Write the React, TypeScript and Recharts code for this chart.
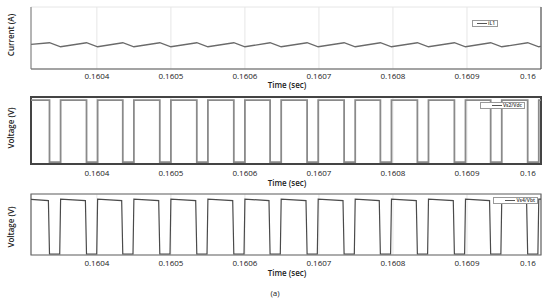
import { LineChart, Line, XAxis, YAxis, CartesianGrid, ReferenceLine, ReferenceArea, Legend } from 'recharts';

const FONT = '"Open Sans", "Noto Sans", sans-serif';

// time axis
const tStart = 0.160311;
const tEnd = 0.161;
const timeTicks = [0.1604, 0.1605, 0.1606, 0.1607, 0.1608, 0.1609, 0.161];
const timeLabels = ['0.1604', '0.1605', '0.1606', '0.1607', '0.1608', '0.1609', '0.16'];

// switching instants (s)
const fallTimes = [0.160336, 0.160386, 0.160435, 0.160485, 0.160535, 0.160585, 0.160634,
  0.160684, 0.160734, 0.160783, 0.160833, 0.160883, 0.160932, 0.160982];
const riseTimes = [0.160351, 0.160401, 0.16045, 0.1605, 0.16055, 0.1606, 0.160649,
  0.160699, 0.160749, 0.160798, 0.160848, 0.160898, 0.160947, 0.160997];

// iL1 ripple levels (arb. units)
const iL1Start = 1.35;
const iL1Peak = 1.44;
const iL1Valley = 1.22;
const iL1End = 1.24;

// Vs2/Vdc levels
const vs2High = 1;
const vs2Low = 0;

// Vs4/Vbt levels (top droops a little over each pulse)
const vs4Start = 0.998;
const vs4TopStart = 1.005;
const vs4TopEnd = 0.975;
const vs4Low = 0;
const vs4FallWidth = 0.0000015;
const vs4RiseWidth = 0.0000012;

const iL1Data = [
  { t: tStart, v: iL1Start },
  ...fallTimes.flatMap((f, i) => [{ t: f, v: iL1Peak }, { t: riseTimes[i], v: iL1Valley }]),
  { t: tEnd, v: iL1End },
];

const vs2Data = [
  { t: tStart, v: vs2High },
  ...fallTimes.flatMap((f, i) => [
    { t: f, v: vs2High }, { t: f, v: vs2Low },
    { t: riseTimes[i], v: vs2Low }, { t: riseTimes[i], v: vs2High },
  ]),
  { t: tEnd, v: vs2High },
];

const vs4Data = [
  { t: tStart, v: vs4Start },
  ...fallTimes.flatMap((f, i) => [
    { t: f - vs4FallWidth, v: vs4TopEnd }, { t: f, v: vs4Low },
    { t: riseTimes[i] - vs4RiseWidth, v: vs4Low }, { t: riseTimes[i], v: vs4TopStart },
  ]),
  { t: tEnd, v: vs4TopStart },
];

const TimeTick = (dy: number) => (props: any) => {
  const { x, y, index } = props;
  const last = index === timeTicks.length - 1;
  return (
    <text x={last ? x - 4 : x} y={y + dy} textAnchor="middle" dominantBaseline="central"
      fontSize={8} fontFamily={FONT} fill="#222">
      {timeLabels[index]}
    </text>
  );
};

const TimeTitle = (y: number) => () => (
  <text x={287} y={y} textAnchor="middle" dominantBaseline="central" fontSize={8}
    fontWeight={600} fontFamily={FONT} fill="#222">
    Time (sec)
  </text>
);

const YTitle = (text: string, cy: number) => () => (
  <text x={10} y={cy} transform={`rotate(-90 10 ${cy})`} textAnchor="middle"
    dominantBaseline="central" fontSize={8} fontWeight={600} fontFamily={FONT} fill="#222">
    {text}
  </text>
);

const LegendBox = (width: number) => (props: any) => {
  const name = props.payload?.[0]?.value;
  return (
    <div style={{
      width, height: 7, border: '1px solid #999', background: '#fff', display: 'flex',
      alignItems: 'center', justifyContent: 'flex-end', paddingRight: 2, boxSizing: 'border-box',
      fontFamily: FONT, fontSize: 5, fontWeight: 600, color: '#333', lineHeight: '5px',
    }}>
      <span style={{ width: 10, height: 0, borderTop: '1px solid #555', marginRight: 1 }} />
      {name}
    </div>
  );
};

export default function App() {
  return (
    <div style={{ position: 'absolute', left: 0, top: 0, width: 550, height: 302, background: '#fff' }}>
      <div style={{ position: 'absolute', left: 0, top: 0 }}>
        <LineChart width={550} height={90} margin={{ top: 7, right: 9, bottom: 0, left: 0 }}>
          <CartesianGrid stroke="#e6e6e6" strokeWidth={1} />
          <XAxis dataKey="t" type="number" domain={[tStart, tEnd]} ticks={timeTicks} allowDataOverflow
            height={21} tickLine={false} tickSize={0} tickMargin={0} tick={TimeTick(6)}
            axisLine={{ stroke: '#555', strokeWidth: 1.2 }} label={TimeTitle(84.5)} />
          <YAxis type="number" domain={[0, 3.4]} ticks={[0.8, 1.8, 2.8]} width={31} tick={false}
            tickLine={false} axisLine={{ stroke: '#777', strokeWidth: 1 }}
            label={YTitle('Current (A)', 35)} />
          <ReferenceLine x={tEnd} stroke="#555" strokeWidth={1.2} />
          <Line data={iL1Data} dataKey="v" name="iL1" type="linear" stroke="#6a6a6a" strokeWidth={1.3}
            dot={false} isAnimationActive={false} />
          <Legend layout="vertical" align="center" verticalAlign="middle" content={LegendBox(26)}
            wrapperStyle={{ left: 472, top: 20, width: 26, height: 7 }} />
        </LineChart>
      </div>

      <div style={{ position: 'absolute', left: 0, top: 90 }}>
        <LineChart width={550} height={98} margin={{ top: 7, right: 9, bottom: 0, left: 0 }}>
          <CartesianGrid stroke="#e8e8e8" strokeWidth={1} />
          <XAxis dataKey="t" type="number" domain={[tStart, tEnd]} ticks={timeTicks} allowDataOverflow
            height={24} tickLine={false} tickSize={0} tickMargin={0} tick={TimeTick(8)}
            axisLine={false} label={TimeTitle(92.5)} />
          <YAxis type="number" domain={[-0.03, 1.05]} ticks={[0.4, 0.8]} width={31} tick={false}
            tickLine={false} axisLine={false} label={YTitle('Voltage (V)', 38)} />
          <Line data={vs2Data} dataKey="v" name="Vs2/Vdc" type="linear" stroke="#8a8a8a" strokeWidth={1.8}
            dot={false} isAnimationActive={false} />
          <ReferenceArea x1={tStart} x2={tEnd} y1={-0.03} y2={1.05} fill="none" stroke="#444"
            strokeWidth={2} ifOverflow="visible" />
          <Legend layout="vertical" align="center" verticalAlign="middle" content={LegendBox(45)}
            wrapperStyle={{ left: 480, top: 12, width: 45, height: 7 }} />
        </LineChart>
      </div>

      <div style={{ position: 'absolute', left: 0, top: 185 }}>
        <LineChart width={550} height={94} margin={{ top: 9, right: 9, bottom: 0, left: 0 }}>
          <CartesianGrid stroke="#e6e6e6" strokeWidth={1} />
          <XAxis dataKey="t" type="number" domain={[tStart, tEnd]} ticks={timeTicks} allowDataOverflow
            height={24} tickLine={false} tickSize={0} tickMargin={0} tick={TimeTick(7)}
            axisLine={false} label={TimeTitle(87)} />
          <YAxis type="number" domain={[-0.018, 1.097]} ticks={[0.47, 0.94]} width={31} tick={false}
            tickLine={false} axisLine={false} label={YTitle('Voltage (V)', 42)} />
          <ReferenceArea x1={tStart} x2={tEnd} y1={-0.018} y2={1.097} fill="none" stroke="#666"
            strokeWidth={1.2} ifOverflow="visible" />
          <Line data={vs4Data} dataKey="v" name="Vs4/Vbt" type="linear" stroke="#4a4a4a" strokeWidth={1.2}
            dot={false} isAnimationActive={false} />
          <Legend layout="vertical" align="center" verticalAlign="middle" content={LegendBox(45)}
            wrapperStyle={{ left: 493, top: 12, width: 45, height: 8 }} />
        </LineChart>
      </div>

      <div style={{ position: 'absolute', left: 0, top: 287, width: 550, textAlign: 'center',
        fontFamily: FONT, fontSize: 8, color: '#222', lineHeight: '12px' }}>
        (a)
      </div>
    </div>
  );
}
